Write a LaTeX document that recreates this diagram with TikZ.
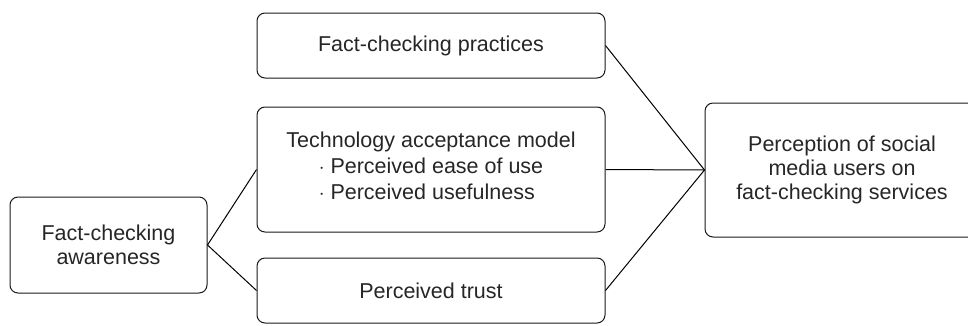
\documentclass[tikz,border=0pt]{standalone}
\usepackage{fontspec}
\setmainfont{Liberation Sans}
\renewcommand{\arraystretch}{1.05}
\begin{document}
\begin{tikzpicture}[x=1pt,y=-1pt,line width=1pt,
        box/.style={draw=black!90, rounded corners=8pt, align=center, inner sep=0pt,
            text=black!85, font=\fontsize{21.5}{24}\selectfont}]
    \useasboundingbox (0,0) rectangle (968,325);

    \node[box, minimum width=197pt, minimum height=96pt] (aware) at (108.5,245) {Fact-checking\\awareness};
    \node[box, minimum width=348pt, minimum height=65pt] (practices) at (431,45.5) {Fact-checking practices};
    \node[box, minimum width=348pt, minimum height=125pt] (tam) at (431,169.5)
        {Technology acceptance model\\[2pt]
         \begin{tabular}[t]{@{}l@{}}$\cdot$ Perceived ease of use\\ $\cdot$ Perceived usefulness\end{tabular}};
    \node[box, minimum width=348pt, minimum height=65pt] (trust) at (431,290.5) {Perceived trust};
    \node[box, minimum width=274pt, minimum height=134pt] (percep) at (842,170)
        {Perception of social\\media users on\\fact-checking services};

    \draw (aware.east) -- (tam.west);
    \draw (aware.east) -- (trust.west);
    \foreach \n in {practices,tam,trust}
        \draw (\n.east) -- (percep.west);

\end{tikzpicture}
\end{document}
